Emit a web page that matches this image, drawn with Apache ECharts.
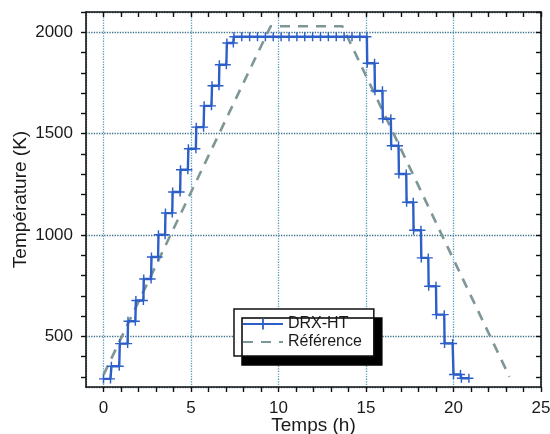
<!DOCTYPE html>
<html>
<head>
<meta charset="utf-8">
<script src="https://cdn.jsdelivr.net/npm/echarts@6/dist/echarts.min.js"></script>
<style>html,body{margin:0;padding:0;background:#fff}#c{width:550px;height:434px}</style>
</head>
<body>
<div id="c"></div>
<script>
// DRX-HT measured points (time in h, temperature in K)
const drxTime = [0, 0.4, 0.45, 0.9, 0.93, 1.38, 1.4, 1.82, 1.85, 2.28, 2.3, 2.72, 2.74, 3.12, 3.14, 3.52, 3.54, 3.93, 3.95, 4.38, 4.4, 4.82, 4.85, 5.28, 5.3, 5.72, 5.75, 6.17, 6.2, 6.6, 6.62, 7.02, 7.05, 7.42,
  7.45, 7.9, 8.35, 8.8, 9.25, 9.7, 10.15, 10.6, 11.05, 11.5, 11.95, 12.4, 12.85, 13.3, 13.75, 14.2, 14.65, 15.05,
  15.07, 15.49, 15.51, 15.94, 15.96, 16.42, 16.44, 16.86, 16.88, 17.3, 17.32, 17.7, 17.72, 18.14, 18.16, 18.56, 18.58, 19.0, 19.02, 19.47, 19.49, 19.95, 20.0, 20.4, 20.45, 20.88];
const drxTemp = [290, 290, 352, 352, 464, 464, 574, 574, 677, 677, 783, 783, 891, 891, 1001, 1001, 1108, 1108, 1212, 1212, 1322, 1322, 1425, 1425, 1532, 1532, 1637, 1637, 1736, 1736, 1840, 1840, 1947, 1947,
  1978, 1978, 1978, 1978, 1978, 1978, 1978, 1978, 1978, 1978, 1978, 1978, 1978, 1978, 1978, 1978, 1978, 1978,
  1847, 1847, 1711, 1711, 1573, 1573, 1440, 1440, 1301, 1301, 1161, 1161, 1023, 1023, 887, 887, 747, 747, 607, 607, 465, 465, 312, 312, 293, 293];
// Reference profile
const refTime = [0, 9.55, 13.65, 23.2];
const refTemp = [310, 2030, 2030, 300];
// Tick labels
const xTickLabels = [0, 5, 10, 15, 20, 25];
const yTickLabels = [500, 1000, 1500, 2000];
const xMinorTicks = [0,1,2,3,4,5,6,7,8,9,10,11,12,13,14,15,16,17,18,19,20,21,22,23,24,25];
const yMinorTicks = [300,400,500,600,700,800,900,1000,1100,1200,1300,1400,1500,1600,1700,1800,1900,2000,2100];

const FONT = "'Liberation Sans', Arial, sans-serif";
const chart = echarts.init(document.getElementById('c'), null, {renderer: 'canvas'});
const frame = {show: true, onZero: false, lineStyle: {color: '#111', width: 1.6}};
const tickStyle = {color: '#111', width: 1.4};
const noLine = {show: false, onZero: false};

chart.setOption({
  animation: false,
  backgroundColor: '#fff',
  grid: {left: 86, top: 12, width: 455, height: 375, containLabel: false, outerBoundsMode: 'none'},
  xAxis: [{
    type: 'value', position: 'bottom', min: -1, max: 25,
    axisLine: noLine, axisTick: {show: false}, axisLabel: {show: false},
    splitNumber: 5,
    splitLine: {show: true, lineStyle: {color: '#5a9fbf', type: 'dotted', width: 1.3}}
  }, {
    type: 'value', position: 'bottom', min: -1, max: 25,
    axisLine: frame,
    axisTick: {show: true, inside: false, length: 5, lineStyle: tickStyle, customValues: xMinorTicks},
    axisLabel: {customValues: xTickLabels, formatter: v => String(v), color: '#1a1a1a', fontSize: 17, fontFamily: FONT, margin: 13},
    splitLine: {show: false},
    name: 'Temps (h)', nameLocation: 'middle', nameGap: 29, nameMoveOverlap: false,
    nameTextStyle: {color: '#1a1a1a', fontSize: 19, fontFamily: FONT}
  }, {
    type: 'value', position: 'top', min: -1, max: 25,
    axisLine: frame,
    axisTick: {show: true, inside: true, length: 5, lineStyle: tickStyle, customValues: xMinorTicks},
    axisLabel: {show: false}, splitLine: {show: false}
  }],
  yAxis: [{
    type: 'value', position: 'left', min: 250, max: 2100, splitNumber: 4,
    axisLine: noLine, axisTick: {show: false}, axisLabel: {show: false},
    splitLine: {show: true, lineStyle: {color: '#3c6f88', type: 'dotted', width: 1.3}}
  }, {
    type: 'value', position: 'left', min: 250, max: 2100,
    axisLine: frame,
    axisTick: {show: true, inside: false, length: 5, lineStyle: tickStyle, customValues: yMinorTicks},
    axisLabel: {customValues: yTickLabels, formatter: v => String(v), color: '#1a1a1a', fontSize: 17, fontFamily: FONT, margin: 13},
    splitLine: {show: false},
    name: 'Température (K)', nameLocation: 'middle', nameGap: 56, nameRotate: 90, nameMoveOverlap: false,
    nameTextStyle: {color: '#1a1a1a', fontSize: 19, fontFamily: FONT}
  }, {
    type: 'value', position: 'right', min: 250, max: 2100,
    axisLine: frame,
    axisTick: {show: true, inside: true, length: 5, lineStyle: tickStyle, customValues: yMinorTicks},
    axisLabel: {show: false}, splitLine: {show: false}
  }],
  legend: {
    orient: 'vertical', left: 234, top: 309,
    padding: [7, 12, 6, 8], itemGap: 2, itemWidth: 40, itemHeight: 14,
    backgroundColor: '#fff', borderColor: '#111', borderWidth: 1.5, borderRadius: 0,
    shadowColor: '#000', shadowBlur: 0, shadowOffsetX: 8, shadowOffsetY: 9,
    textStyle: {color: '#1a1a1a', fontSize: 16, fontFamily: FONT},
    data: ['DRX-HT', {name: 'Référence', itemStyle: {opacity: 0}}]
  },
  series: [{
    name: 'Référence', type: 'line', z: 2, xAxisIndex: 0, yAxisIndex: 0,
    data: refTime.map((t, i) => [t, refTemp[i]]),
    showSymbol: false, symbol: 'none',
    lineStyle: {color: '#7f9696', width: 2.6, type: [10, 8]},
    itemStyle: {color: '#7f9696'}
  }, {
    name: 'DRX-HT', type: 'line', z: 3, xAxisIndex: 0, yAxisIndex: 0,
    data: drxTime.map((t, i) => [t, drxTemp[i]]),
    showSymbol: true, symbol: 'path://M4.2,0H5.8V10H4.2Z M0,4.2H10V5.8H0Z', symbolSize: 9,
    lineStyle: {color: '#2d5fc8', width: 2.4},
    itemStyle: {color: '#2d5fc8'}
  }]
});
</script>
</body>
</html>
